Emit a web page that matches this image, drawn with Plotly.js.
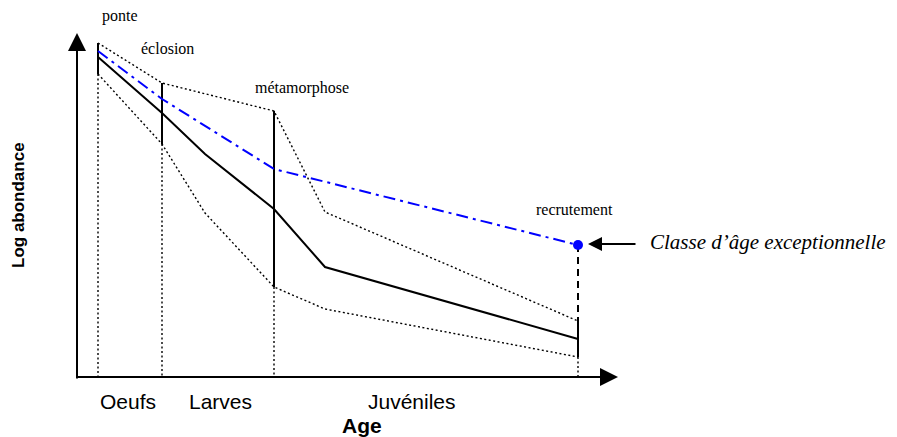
<!DOCTYPE html>
<html>
<head>
<meta charset="utf-8">
<script src="https://cdn.plot.ly/plotly-3.0.1.min.js"></script>
<style>html,body{margin:0;padding:0;background:#fff;}#chart{width:897px;height:437px;}</style>
</head>
<body>
<div id="chart"></div>
<script>
// Stage boundaries along the age axis (arbitrary age units)
const stageAge = [21, 85, 197, 501];
const stageNames = ['ponte', 'éclosion', 'métamorphose', 'recrutement'];

// Log abundance: upper bound, mean and lower bound of the survival envelope
const envAge = [21, 85, 128, 197, 248, 501];
const meanLog = [320, 264, 223, 168, 110, 38];
const lowerLog = [303, 233, 164, 90, 68, 20];
const upAge = [21, 85, 197, 248, 501];
const upLog = [334, 294, 266, 165, 56];

// Trajectory of an exceptional year class
const strongAge = [21, 85, 197, 501];
const strongLog = [326, 278, 208, 132];

// Range of each stage bar (top, bottom)
const barTop = [334, 294, 266, 56];
const barBottom = [303, 233, 90, 20];

// Life stages written under the age axis
const phaseNames = ['Oeufs', 'Larves', 'Juvéniles'];
const phaseAge = [51, 143, 335];

const black = '#000000';
const blue = '#0000ff';

// Build segment lists (null-separated) for the vertical stage marks
function segs(xs, y0s, y1s) {
  const x = [], y = [];
  xs.forEach((v, i) => { x.push(v, v, null); y.push(y0s[i], y1s[i], null); });
  return {x, y};
}
const solidBars = segs(stageAge, barTop, barBottom);
const dropLines = segs(stageAge, barBottom, stageAge.map(() => 0));
const lastI = stageAge.length - 1;
const lastS = strongLog.length - 1;

const dotted = {color: black, width: 1.4, dash: '2px,2.5px'};

const traces = [
  {x: upAge, y: upLog, mode: 'lines', line: dotted},
  {x: envAge, y: lowerLog, mode: 'lines', line: dotted},
  {x: dropLines.x, y: dropLines.y, mode: 'lines', line: dotted},
  {x: solidBars.x, y: solidBars.y, mode: 'lines', line: {color: black, width: 2}},
  {x: envAge, y: meanLog, mode: 'lines', line: {color: black, width: 2}},
  {x: [stageAge[lastI], stageAge[lastI]], y: [strongLog[lastS], barTop[lastI]],
   mode: 'lines', line: {color: black, width: 2, dash: '7px,5px'}},
  {x: strongAge, y: strongLog, mode: 'lines', line: {color: blue, width: 2, dash: '12px,5px,3px,5px'}},
  {x: [strongAge[lastS]], y: [strongLog[lastS]], mode: 'markers', marker: {color: blue, size: 10}}
];

const serif = 'Liberation Serif, Times New Roman, serif';
const sans = 'Liberation Sans, Arial, sans-serif';

const annotations = [
  // axis arrows
  {x: 541, y: 0, ax: -2, ay: 0, xref: 'x', yref: 'y', axref: 'x', ayref: 'y', text: '',
   showarrow: true, arrowhead: 2, arrowsize: 1.8, arrowwidth: 2, arrowcolor: black},
  {x: 0, y: 344, ax: 0, ay: -3, xref: 'x', yref: 'y', axref: 'x', ayref: 'y', text: '',
   showarrow: true, arrowhead: 2, arrowsize: 1.8, arrowwidth: 2, arrowcolor: black},
  // pointer to the exceptional year class
  {x: 511, y: 133, ax: 560, ay: 133, xref: 'x', yref: 'y', axref: 'x', ayref: 'y', text: '',
   showarrow: true, arrowhead: 2, arrowsize: 1.4, arrowwidth: 2, arrowcolor: black},
  {x: 571, y: 135, xref: 'x', yref: 'y', xanchor: 'left', yanchor: 'middle', showarrow: false,
   text: '<i>Classe d’âge exceptionnelle</i>', font: {family: serif, size: 21, color: black}},
  // axis titles
  {x: 285, y: -48, xref: 'x', yref: 'y', showarrow: false, text: '<b>Age</b>',
   font: {family: sans, size: 21, color: black}},
  {x: -59, y: 172, xref: 'x', yref: 'y', showarrow: false, text: '<b>Log abondance</b>', textangle: -90,
   font: {family: sans, size: 17, color: black}}
];

// stage labels above the bars
const labelPos = [[43, 361], [90, 329], [225, 289], [497, 168]];
stageNames.forEach((t, i) => annotations.push({
  x: labelPos[i][0], y: labelPos[i][1], xref: 'x', yref: 'y', showarrow: false, text: t,
  font: {family: serif, size: 16, color: black}
}));
// life stage names
phaseNames.forEach((t, i) => annotations.push({
  x: phaseAge[i], y: -24, xref: 'x', yref: 'y', showarrow: false, text: t,
  font: {family: sans, size: 21, color: black}
}));

const layout = {
  width: 897, height: 437,
  margin: {l: 0, r: 0, t: 0, b: 0},
  paper_bgcolor: '#fff', plot_bgcolor: '#fff',
  showlegend: false,
  xaxis: {range: [-77, 820], visible: false, fixedrange: true},
  yaxis: {range: [-60, 377], visible: false, fixedrange: true},
  annotations: annotations
};

Plotly.newPlot('chart', traces, layout, {staticPlot: true});
</script>
</body>
</html>
